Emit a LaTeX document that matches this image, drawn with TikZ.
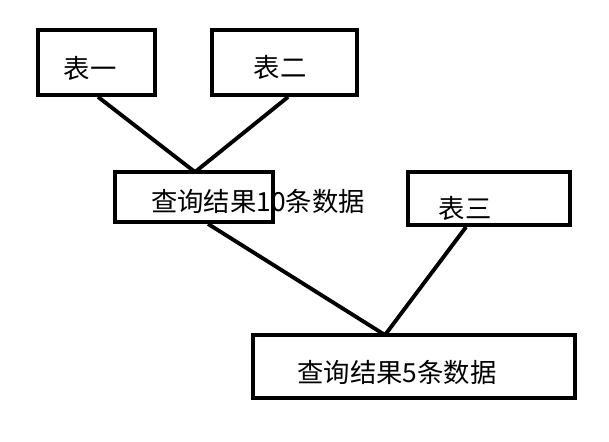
\documentclass[tikz,border=0pt]{standalone}
\usepackage{fontspec}
\newfontfamily\cjk{Noto Sans CJK SC}
\tikzstyle{box} = [draw, line width=2.2pt, inner sep=0pt]
\tikzstyle{txt} = [font=\cjk\fontsize{15}{17}\selectfont, inner sep=0pt]
\tikzstyle{link} = [line width=2.2pt]

\begin{document}
\begin{tikzpicture}[x=0.02cm, y=-0.02cm]
        \useasboundingbox (0,0) rectangle (609,441);
        \node[box, minimum width=117*0.02cm, minimum height=65*0.02cm] at (96.5,62.5) (t1) {};
        \node[box, minimum width=145*0.02cm, minimum height=65*0.02cm] at (284.5,62.5) (t2) {};
        \node[box, minimum width=158*0.02cm, minimum height=50*0.02cm] at (194,197) (r1) {};
        \node[box, minimum width=162*0.02cm, minimum height=53*0.02cm] at (489,198.5) (t3) {};
        \node[box, minimum width=322*0.02cm, minimum height=63*0.02cm] at (414,366.5) (r2) {};

        \node[txt] at (90,68) (l1) {表一};
        \node[txt] at (280,67) (l2) {表二};
        \node[txt] at (258,201) (l3) {查询结果10条数据};
        \node[txt] at (465,208) (l4) {表三};
        \node[txt] at (397,372) (l5) {查询结果5条数据};

        \coordinate (j1) at (195,172);
        \coordinate (j2) at (385,335);
        \draw[link] (t1.south west) ++(62,0) -- (j1);
        \draw[link] (t2.south west) ++(78,0) -- (j1);
        \draw[link] (r1.south west) ++(95,0) -- (j2);
        \draw[link] (t3.south west) ++(60,0) -- (j2);
    \end{tikzpicture}
\end{document}
